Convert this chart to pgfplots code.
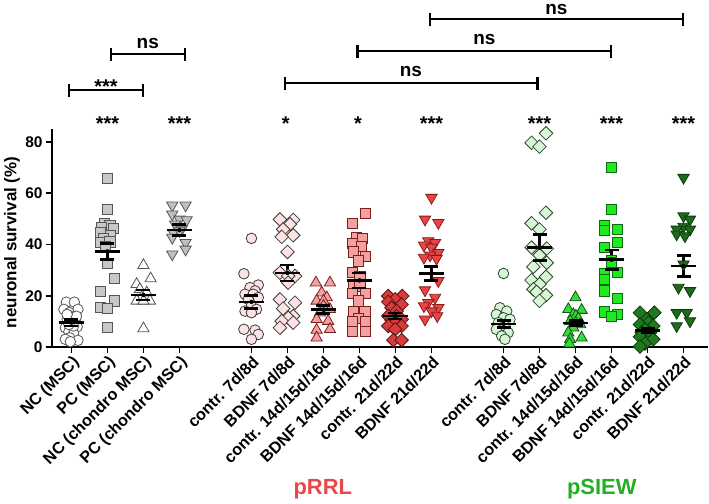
\documentclass[border=0pt]{standalone}
\usepackage{pgfplots}
\pgfplotsset{compat=1.18}
\usepackage{fontspec}
\setmainfont{Liberation Sans}

\definecolor{gedge}{HTML}{555555}
\definecolor{pcfill}{HTML}{C8C8C8}
\definecolor{pchfill}{HTML}{BFBFBF}
\definecolor{pinkf}{HTML}{FCE2E2}
\definecolor{pinkedge}{HTML}{3C3C3C}
\definecolor{salmon}{HTML}{F3A0A0}
\definecolor{salmonedge}{HTML}{7A1E1E}
\definecolor{redd}{HTML}{D63C3C}
\definecolor{reddedge}{HTML}{5A1010}
\definecolor{redt}{HTML}{E84545}
\definecolor{redtedge}{HTML}{8A1A1A}
\definecolor{lgreen}{HTML}{D8F5D8}
\definecolor{lgreenedge}{HTML}{2A4A2A}
\definecolor{gtri}{HTML}{3AD83A}
\definecolor{gtriedge}{HTML}{0E560E}
\definecolor{gsq}{HTML}{1EEB1E}
\definecolor{gsqedge}{HTML}{0E6A0E}
\definecolor{dgd}{HTML}{1F7A1F}
\definecolor{dgdedge}{HTML}{0B3B0B}
\definecolor{dgt}{HTML}{1D6A1D}
\definecolor{dgtedge}{HTML}{0B3B0B}
\definecolor{rrl}{HTML}{E8474C}
\definecolor{siew}{HTML}{22B022}

\newcommand{\brk}[3]{%
  \draw[line width=2.4bp] (axis cs:#1,#3) -- (axis cs:#2,#3);
  \draw[line width=2.4bp] ([yshift=-6.5bp]axis cs:#1,#3) -- ([yshift=6.5bp]axis cs:#1,#3);
  \draw[line width=2.4bp] ([yshift=-6.5bp]axis cs:#2,#3) -- ([yshift=6.5bp]axis cs:#2,#3);
}

\pgfplotsset{
  circ/.style 2 args={only marks, mark=*, mark size=5.3bp, mark options={fill=#1, draw=#2, line width=0.8bp}},
  sq/.style 2 args={only marks, mark=square*, mark size=5.1bp, mark options={fill=#1, draw=#2, line width=0.8bp}},
  tri/.style 2 args={only marks, mark=triangle*, mark size=6.5bp, mark options={fill=#1, draw=#2, line width=0.8bp}},
  dtri/.style 2 args={only marks, mark=triangle*, mark size=6.5bp, mark options={fill=#1, draw=#2, line width=0.8bp, rotate=180}},
  dia/.style 2 args={only marks, mark=square*, mark size=4.8bp, mark options={fill=#1, draw=#2, line width=0.8bp, rotate=45}},
}

\begin{document}
\begin{tikzpicture}[
  stars/.style={font=\fontsize{20}{24}\selectfont\bfseries, inner sep=0pt},
  nsl/.style={font=\fontsize{19}{22}\selectfont\bfseries, inner sep=0pt}]
\begin{axis}[
  at={(52bp,157bp)}, anchor=south west,
  scale only axis, width=656bp, height=217.8bp,
  xmin=-0.54, xmax=17.68, ymin=0, ymax=85,
  axis x line*=bottom, axis y line*=left,
  axis line style={line width=2bp, black},
  tick align=outside,
  major tick length=6bp,
  major tick style={line width=1.6bp, black},
  ytick={0,20,40,60,80},
  xtick={0,1,2,3,5,6,7,8,9,10,12,13,14,15,16,17},
  xticklabels={NC (MSC), PC (MSC), NC (chondro MSC), PC (chondro MSC),
    contr. 7d/8d, BDNF 7d/8d, contr. 14d/15d/16d, BDNF 14d/15d/16d, contr. 21d/22d, BDNF 21d/22d,
    contr. 7d/8d, BDNF 7d/8d, contr. 14d/15d/16d, BDNF 14d/15d/16d, contr. 21d/22d, BDNF 21d/22d},
  /pgf/number format/assume math mode=true,
  yticklabel style={font=\fontsize{15.5}{18}\selectfont\bfseries},
  xticklabel style={font=\fontsize{16.3}{19}\selectfont\bfseries, rotate=45, anchor=north east, inner sep=1bp},
  ylabel={neuronal survival (\%)},
  ylabel style={font=\fontsize{17}{20}\selectfont\bfseries, at={(axis description cs:-0.061,0.48)}, anchor=center},
  clip=false,
]
% group 0 NC (MSC)
\addplot[circ={white}{gedge}] table[x=x,y=y] {
x y
-0.14 17.5
0.08 17.5
-0.21 14.7
0.18 14.7
-0.06 13.4
0.02 12.0
-0.12 10.8
0.11 10.8
0.00 9.5
-0.17 7.5
0.16 7.9
-0.07 6.0
0.06 5.3
-0.05 3.6
-0.17 3.0
0.18 2.6
-0.03 2.1
0.14 12.0
-0.12 12.7
0.06 8.2
-0.07 8.8
};
% group 1 PC (MSC)
\addplot[sq={pcfill}{gedge}] table[x=x,y=y] {
x y
1.00 65.8
1.00 53.7
0.91 48.3
1.07 47.5
0.84 46.6
1.17 46.2
0.80 44.6
1.09 43.7
0.89 42.3
0.80 40.7
1.07 41.0
0.94 39.4
1.00 32.6
1.19 26.8
0.80 21.7
1.19 18.0
0.80 15.6
1.00 15.0
1.00 7.8
};
% group 2 NC (chondro MSC)
\addplot[tri={white}{gedge}] table[x=x,y=y] {
x y
2.00 31.9
2.20 26.7
1.81 24.5
1.90 22.5
2.09 21.2
1.95 19.3
1.81 18.0
2.18 18.0
2.00 18.0
2.00 7.2
};
% group 3 PC (chondro MSC)
\addplot[dtri={pchfill}{gedge}] table[x=x,y=y] {
x y
2.80 55.3
3.17 55.3
2.80 51.8
3.00 49.8
3.20 49.6
2.88 47.9
3.06 45.9
2.83 44.6
2.80 42.7
3.17 40.7
3.17 38.1
2.80 36.2
3.00 45.3
};
% pRRL contr 7d/8d
\addplot[circ={pinkf}{pinkedge}] table[x=x,y=y] {
x y
5.00 42.4
4.79 28.6
5.19 24.2
4.96 23.2
5.10 21.9
4.82 20.6
5.05 20.6
5.19 19.3
4.91 18.6
5.00 16.0
5.14 14.7
4.82 14.0
5.00 13.4
4.79 6.9
5.10 6.6
5.19 4.9
5.00 3.0
};
% pRRL BDNF 7d/8d
\addplot[dia={pinkf}{pinkedge}] table[x=x,y=y] {
x y
5.79 49.8
6.16 49.6
6.07 47.9
5.88 45.9
6.16 43.6
5.84 43.0
6.00 37.1
5.79 29.0
6.21 27.7
6.02 27.7
6.02 25.1
5.79 18.6
6.21 17.3
5.88 15.0
6.16 12.1
6.02 11.4
5.84 10.1
6.16 9.5
5.79 7.5
};
% pRRL contr 14d
\addplot[tri={salmon}{salmonedge}] table[x=x,y=y] {
x y
6.79 25.1
7.18 25.1
6.95 21.2
7.09 19.3
6.81 18.0
7.00 18.0
7.00 16.0
7.18 14.7
6.90 13.4
6.81 10.8
7.13 10.1
7.18 6.9
6.81 6.6
6.81 3.6
};
% pRRL BDNF 14d
\addplot[sq={salmon}{salmonedge}] table[x=x,y=y] {
x y
8.17 52.0
7.80 48.3
7.92 42.7
8.09 42.4
7.81 40.5
8.06 39.2
7.83 37.1
8.17 35.3
7.97 33.6
7.81 29.0
8.01 27.7
7.83 24.5
8.01 23.8
8.17 20.9
7.81 20.8
7.97 18.0
7.83 13.7
8.15 13.7
7.97 11.1
7.81 10.1
8.17 10.1
7.81 6.2
8.17 6.2
};
% pRRL contr 21d
\addplot[dia={redd}{reddedge}] table[x=x,y=y] {
x y
8.80 19.9
9.19 19.9
8.99 18.6
8.80 17.6
9.17 16.6
8.89 15.3
9.03 14.0
8.80 12.1
9.03 12.0
9.17 10.8
8.89 10.5
8.99 9.5
8.80 8.2
9.17 8.2
8.99 6.9
8.94 2.7
9.17 2.7
};
% pRRL BDNF 21d
\addplot[dtri={redt}{redtedge}] table[x=x,y=y] {
x y
10.00 58.3
9.82 49.8
10.19 48.5
9.91 41.4
10.10 40.7
9.79 39.7
10.00 38.8
10.19 36.8
9.96 35.8
9.79 34.9
10.14 34.5
10.19 25.8
9.82 22.2
10.10 19.3
9.91 17.3
9.79 16.0
10.19 15.3
10.00 14.0
10.16 12.1
9.82 10.8
};
% pSIEW contr 7d
\addplot[circ={lgreen}{lgreenedge}] table[x=x,y=y] {
x y
12.00 28.7
11.90 15.3
12.09 14.0
11.80 12.7
12.00 11.4
12.18 10.8
11.86 9.5
12.04 8.2
11.80 6.9
12.13 5.6
11.95 4.3
12.04 3.0
};
% pSIEW BDNF 7d
\addplot[dia={lgreen}{lgreenedge}] table[x=x,y=y] {
x y
13.18 83.4
12.78 79.7
13.00 78.2
13.18 52.4
12.78 48.3
13.00 45.9
12.78 38.8
13.20 38.4
13.00 35.8
13.20 32.9
12.83 31.3
13.18 27.4
12.78 26.1
13.00 24.5
12.83 22.5
12.92 21.5
13.18 20.2
13.00 18.0
};
% pSIEW contr 14d
\addplot[tri={gtri}{gtriedge}] table[x=x,y=y] {
x y
14.00 19.3
13.80 14.7
14.17 14.4
13.94 12.7
14.01 12.1
14.08 11.1
13.85 10.1
14.00 9.5
14.13 8.8
13.94 7.5
13.80 5.6
14.17 3.6
13.85 3.0
13.83 1.3
};
% pSIEW BDNF 14d
\addplot[sq={gsq}{gsqedge}] table[x=x,y=y] {
x y
15.00 70.2
15.00 53.7
14.80 47.5
15.17 45.9
14.80 45.5
15.17 40.7
14.80 38.8
15.00 33.6
15.00 32.9
15.17 29.0
14.80 28.7
14.80 26.4
14.80 21.9
15.17 18.9
14.80 13.7
15.17 12.7
15.00 11.8
};
% pSIEW contr 21d
\addplot[dia={dgd}{dgdedge}] table[x=x,y=y] {
x y
15.79 13.4
16.19 13.4
15.98 10.8
16.02 9.5
15.79 8.8
16.16 8.2
15.93 6.9
16.07 5.6
15.84 5.6
15.79 4.0
16.16 3.0
15.93 1.4
15.79 0.2
};
% pSIEW BDNF 21d
\addplot[dtri={dgt}{dgtedge}] table[x=x,y=y] {
x y
17.00 66.1
17.00 51.1
17.18 49.8
17.00 47.0
16.81 45.9
17.18 45.9
16.81 44.0
17.04 43.3
17.00 32.3
16.86 23.2
17.18 21.9
16.81 13.4
17.09 13.4
17.18 10.1
16.81 8.2
};
% SEM vertical bars
\addplot[black, only marks, mark=none,
  error bars/.cd, y dir=both, y explicit, error mark=none,
  error bar style={line width=2.6bp, black}]
  table[x=x, y=y, y error=e] {
x y e
0 9.5 1.3
1 37.3 3.1
2 20.3 2.0
3 45.6 2.2
5 17.6 2.6
6 28.9 3.1
7 14.6 1.5
8 26.0 2.9
9 12.1 1.2
10 28.7 2.8
12 9.0 1.3
13 38.8 5.0
14 9.4 1.0
15 34.1 3.8
16 6.5 0.9
17 31.6 4.2
};
% SEM caps (upper and lower)
\addplot[black, only marks, mark=-, mark size=7bp, mark options={line width=2.6bp}] table[x=x,y=y] {
x y
0 10.8
0 8.2
1 40.4
1 34.2
2 22.3
2 18.3
3 47.8
3 43.4
5 20.2
5 15.0
6 32.0
6 25.8
7 16.1
7 13.1
8 28.9
8 23.1
9 13.3
9 10.9
10 31.5
10 25.9
12 10.3
12 7.7
13 43.8
13 33.8
14 10.4
14 8.4
15 37.9
15 30.3
16 7.4
16 5.6
17 35.8
17 27.4
};
% means
\addplot[black, only marks, mark=-, mark size=12.5bp, mark options={line width=2.6bp}] table[x=x,y=y] {
x y
0 9.5
1 37.3
2 20.3
3 45.6
5 17.6
6 28.9
7 14.6
8 26.0
9 12.1
10 28.7
12 9.0
13 38.8
14 9.4
15 34.1
16 6.5
17 31.6
};
% significance vs NC
\node[stars] at (axis cs:1,87.0) {***};
\node[stars] at (axis cs:3,87.0) {***};
\node[stars] at (axis cs:5.95,87.0) {*};
\node[stars] at (axis cs:7.96,87.0) {*};
\node[stars] at (axis cs:10,87.0) {***};
\node[stars] at (axis cs:13,87.0) {***};
\node[stars] at (axis cs:15,87.0) {***};
\node[stars] at (axis cs:17,87.0) {***};
% brackets
\brk{-0.06}{1.99}{100.3}
\node[stars] at (axis cs:0.96,101.5) {***};
\brk{1.10}{3.15}{114.3}
\node[nsl] at (axis cs:2.12,118.6) {ns};
\brk{5.93}{12.94}{103.0}
\node[nsl] at (axis cs:9.43,107.7) {ns};
\brk{7.95}{14.99}{115.5}
\node[nsl] at (axis cs:11.47,120.2) {ns};
\brk{9.96}{16.98}{128.0}
\node[nsl] at (axis cs:13.47,131.9) {ns};
% group labels
\node[anchor=base, text=rrl, font=\fontsize{22}{26}\selectfont\bfseries] at (axis cs:6.98,-57.4) {pRRL};
\node[anchor=base, text=siew, font=\fontsize{22}{26}\selectfont\bfseries] at (axis cs:14.73,-57.4) {pSIEW};
\end{axis}
\pgfresetboundingbox
\path[use as bounding box] (0,0) rectangle (709bp,504bp);
\end{tikzpicture}
\end{document}
